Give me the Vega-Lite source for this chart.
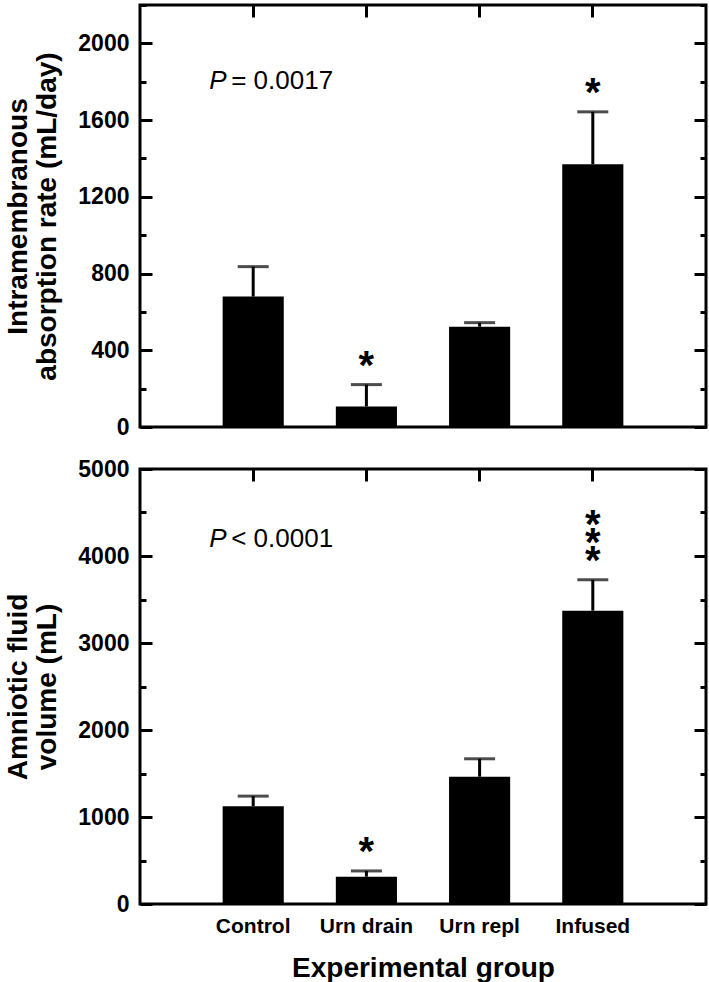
{
  "$schema": "https://vega.github.io/schema/vega-lite/v6.json",
  "padding": {"left": 3, "top": 2, "right": 3, "bottom": 0},
  "background": "white",
  "config": {
    "font": "Liberation Sans",
    "view": {"stroke": "black", "strokeWidth": 3},
    "axis": {
      "domain": false, "grid": false,
      "tickColor": "black", "tickWidth": 3,
      "labelColor": "black", "titleColor": "black",
      "labelFont": "Liberation Sans", "titleFont": "Liberation Sans",
      "labelFontWeight": "bold", "labelFontSize": 23,
      "titleFontWeight": "bold", "titleFontSize": 28
    }
  },
  "datasets": {
    "abs": [
      {"group": "Control", "mean": 680, "top": 836},
      {"group": "Urn drain", "mean": 107, "top": 221},
      {"group": "Urn repl", "mean": 523, "top": 544},
      {"group": "Infused", "mean": 1370, "top": 1643}
    ],
    "absStars": [
      {"group": "Urn drain", "y": 372},
      {"group": "Infused", "y": 1795}
    ],
    "absP": [{"group": "Control", "y": 1805, "p": "P", "rest": "= 0.0017"}],
    "vol": [
      {"group": "Control", "mean": 1124, "top": 1240},
      {"group": "Urn drain", "mean": 314, "top": 380},
      {"group": "Urn repl", "mean": 1463, "top": 1669},
      {"group": "Infused", "mean": 3372, "top": 3727}
    ],
    "volStars": [
      {"group": "Urn drain", "y": 709},
      {"group": "Infused", "y": 4060},
      {"group": "Infused", "y": 4266},
      {"group": "Infused", "y": 4472}
    ],
    "volP": [{"group": "Control", "y": 4190, "p": "P", "rest": "< 0.0001"}]
  },
  "spacing": 15,
  "vconcat": [
    {
      "width": 566, "height": 422,
      "resolve": {"scale": {"x": "shared", "y": "shared"}, "axis": {"x": "independent", "y": "independent"}},
      "layer": [
        {
          "data": {"name": "abs"},
          "mark": {"type": "bar", "color": "black"},
          "encoding": {
            "x": {"field": "group", "type": "nominal", "sort": ["Control", "Urn drain", "Urn repl", "Infused"],
                  "scale": {"paddingInner": 0.46, "paddingOuter": 0.73},
                  "axis": {"orient": "bottom", "labels": false, "ticks": false, "title": null}},
            "y": {"field": "mean", "type": "quantitative", "scale": {"domain": [0, 2200], "nice": false},
                  "axis": {"orient": "left", "values": [0, 400, 800, 1200, 1600, 2000], "format": "d", "tickSize": -12,
                           "labelPadding": 23, "title": ["Intramembranous", "absorption rate (mL/day)"],
                           "titlePadding": 16, "titleLineHeight": 29}}
          }
        },
        {
          "data": {"name": "abs"},
          "mark": {"type": "rule", "color": "black", "strokeWidth": 3},
          "encoding": {
            "x": {"field": "group", "type": "nominal", "sort": ["Control", "Urn drain", "Urn repl", "Infused"],
                  "axis": {"orient": "top", "labels": false, "tickSize": -12, "title": null}},
            "y": {"field": "mean", "type": "quantitative",
                  "axis": {"orient": "right", "values": [0, 400, 800, 1200, 1600, 2000], "tickSize": -12, "labels": false, "title": null}},
            "y2": {"field": "top"}
          }
        },
        {
          "data": {"name": "abs"},
          "mark": {"type": "tick", "color": "black", "size": 31, "thickness": 3, "orient": "horizontal"},
          "encoding": {
            "x": {"field": "group", "type": "nominal", "sort": ["Control", "Urn drain", "Urn repl", "Infused"], "axis": null},
            "y": {"field": "top", "type": "quantitative",
                  "axis": {"orient": "left", "values": [200, 600, 1000, 1400, 1800, 2200], "tickSize": -6, "labels": false, "title": null}}
          }
        },
        {
          "data": {"name": "absStars"},
          "mark": {"type": "text", "text": "*", "fontSize": 40, "fontWeight": "bold", "color": "black", "baseline": "alphabetic", "dy": 23},
          "encoding": {
            "x": {"field": "group", "type": "nominal", "sort": ["Control", "Urn drain", "Urn repl", "Infused"], "axis": null},
            "y": {"field": "y", "type": "quantitative",
                  "axis": {"orient": "right", "values": [200, 600, 1000, 1400, 1800, 2200], "tickSize": -6, "labels": false, "title": null}}
          }
        },
        {
          "data": {"name": "absP"},
          "mark": {"type": "text", "fontSize": 26, "fontStyle": "italic", "color": "black", "align": "left", "baseline": "middle", "dx": -44},
          "encoding": {
            "x": {"field": "group", "type": "nominal", "sort": ["Control", "Urn drain", "Urn repl", "Infused"], "axis": null},
            "y": {"field": "y", "type": "quantitative", "axis": null},
            "text": {"field": "p"}
          }
        },
        {
          "data": {"name": "absP"},
          "mark": {"type": "text", "fontSize": 26, "color": "black", "align": "left", "baseline": "middle", "dx": -22},
          "encoding": {
            "x": {"field": "group", "type": "nominal", "sort": ["Control", "Urn drain", "Urn repl", "Infused"], "axis": null},
            "y": {"field": "y", "type": "quantitative", "axis": null},
            "text": {"field": "rest"}
          }
        }
      ]
    },
    {
      "width": 566, "height": 435,
      "resolve": {"scale": {"x": "shared", "y": "shared"}, "axis": {"x": "independent", "y": "independent"}},
      "layer": [
        {
          "data": {"name": "vol"},
          "mark": {"type": "bar", "color": "black"},
          "encoding": {
            "x": {"field": "group", "type": "nominal", "sort": ["Control", "Urn drain", "Urn repl", "Infused"],
                  "scale": {"paddingInner": 0.46, "paddingOuter": 0.73},
                  "axis": {"orient": "bottom", "labelAngle": 0, "ticks": false, "labelFontSize": 21, "labelPadding": 11,
                           "title": "Experimental group", "titlePadding": 18}},
            "y": {"field": "mean", "type": "quantitative", "scale": {"domain": [0, 5000], "nice": false},
                  "axis": {"orient": "left", "values": [0, 1000, 2000, 3000, 4000, 5000], "format": "d", "tickSize": -12,
                           "labelPadding": 23, "title": ["Amniotic fluid", "volume (mL)"],
                           "titlePadding": 16, "titleLineHeight": 29}}
          }
        },
        {
          "data": {"name": "vol"},
          "mark": {"type": "rule", "color": "black", "strokeWidth": 3},
          "encoding": {
            "x": {"field": "group", "type": "nominal", "sort": ["Control", "Urn drain", "Urn repl", "Infused"],
                  "axis": {"orient": "top", "labels": false, "tickSize": -12, "title": null}},
            "y": {"field": "mean", "type": "quantitative",
                  "axis": {"orient": "right", "values": [0, 1000, 2000, 3000, 4000, 5000], "tickSize": -12, "labels": false, "title": null}},
            "y2": {"field": "top"}
          }
        },
        {
          "data": {"name": "vol"},
          "mark": {"type": "tick", "color": "black", "size": 31, "thickness": 3, "orient": "horizontal"},
          "encoding": {
            "x": {"field": "group", "type": "nominal", "sort": ["Control", "Urn drain", "Urn repl", "Infused"], "axis": null},
            "y": {"field": "top", "type": "quantitative",
                  "axis": {"orient": "left", "values": [500, 1500, 2500, 3500, 4500], "tickSize": -6, "labels": false, "title": null}}
          }
        },
        {
          "data": {"name": "volStars"},
          "mark": {"type": "text", "text": "*", "fontSize": 40, "fontWeight": "bold", "color": "black", "baseline": "alphabetic", "dy": 23},
          "encoding": {
            "x": {"field": "group", "type": "nominal", "sort": ["Control", "Urn drain", "Urn repl", "Infused"], "axis": null},
            "y": {"field": "y", "type": "quantitative",
                  "axis": {"orient": "right", "values": [500, 1500, 2500, 3500, 4500], "tickSize": -6, "labels": false, "title": null}}
          }
        },
        {
          "data": {"name": "volP"},
          "mark": {"type": "text", "fontSize": 26, "fontStyle": "italic", "color": "black", "align": "left", "baseline": "middle", "dx": -44},
          "encoding": {
            "x": {"field": "group", "type": "nominal", "sort": ["Control", "Urn drain", "Urn repl", "Infused"], "axis": null},
            "y": {"field": "y", "type": "quantitative", "axis": null},
            "text": {"field": "p"}
          }
        },
        {
          "data": {"name": "volP"},
          "mark": {"type": "text", "fontSize": 26, "color": "black", "align": "left", "baseline": "middle", "dx": -22},
          "encoding": {
            "x": {"field": "group", "type": "nominal", "sort": ["Control", "Urn drain", "Urn repl", "Infused"], "axis": null},
            "y": {"field": "y", "type": "quantitative", "axis": null},
            "text": {"field": "rest"}
          }
        }
      ]
    }
  ]
}
